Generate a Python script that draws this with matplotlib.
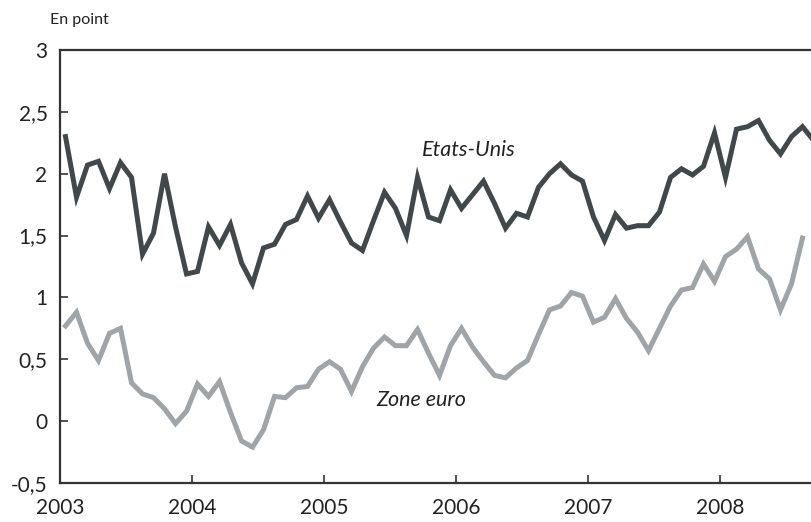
import matplotlib
matplotlib.use("Agg")
import matplotlib.pyplot as plt
import numpy as np

# Monthly series, Jan 2003 onward
etats_unis = [2.30, 1.81, 2.07, 2.10, 1.88, 2.09, 1.97, 1.35, 1.52, 2.00, 1.57, 1.19,
              1.21, 1.57, 1.42, 1.59, 1.28, 1.11, 1.40, 1.43, 1.59, 1.63, 1.82, 1.64,
              1.79, 1.61, 1.44, 1.38, 1.62, 1.85, 1.72, 1.50, 1.97, 1.65, 1.62, 1.87,
              1.72, 1.83, 1.94, 1.76, 1.56, 1.68, 1.65, 1.89, 2.00, 2.08, 1.99, 1.94,
              1.65, 1.46, 1.67, 1.56, 1.58, 1.58, 1.69, 1.97, 2.04, 1.99, 2.06, 2.33,
              1.97, 2.36, 2.38, 2.43, 2.27, 2.16, 2.30, 2.38, 2.27]
zone_euro = [0.77, 0.88, 0.63, 0.49, 0.71, 0.75, 0.31, 0.22, 0.19, 0.10, -0.02, 0.08,
             0.30, 0.20, 0.32, 0.07, -0.16, -0.21, -0.07, 0.20, 0.19, 0.27, 0.28, 0.42,
             0.48, 0.42, 0.24, 0.44, 0.59, 0.68, 0.61, 0.61, 0.74, 0.55, 0.37, 0.61,
             0.75, 0.60, 0.48, 0.37, 0.35, 0.43, 0.49, 0.70, 0.90, 0.93, 1.04, 1.01,
             0.80, 0.84, 0.99, 0.83, 0.72, 0.57, 0.75, 0.93, 1.06, 1.08, 1.27, 1.13,
             1.33, 1.39, 1.49, 1.23, 1.15, 0.90, 1.11, 1.48]
years = [2003, 2004, 2005, 2006, 2007, 2008]
y_ticks = [-0.5, 0, 0.5, 1, 1.5, 2, 2.5, 3]
y_labels = ["-0,5", "0", "0,5", "1", "1,5", "2", "2,5", "3"]

plt.rcParams['font.family'] = ['Lato', 'DejaVu Sans']

x_us = 2003 + (np.arange(len(etats_unis)) + 0.5) / 12
x_eu = 2003 + (np.arange(len(zone_euro)) + 0.5) / 12

fig = plt.figure(figsize=(8.11, 5.22), dpi=100)
ax = fig.add_axes([60 / 811, 1 - 483 / 522, 751 / 811, 433 / 522])

dark = '#41484b'
grey = '#9ea4a8'
ax.plot(x_us, etats_unis, color=dark, lw=3.6, solid_joinstyle='miter')
ax.plot(x_eu, zone_euro, color=grey, lw=3.6, solid_joinstyle='miter')

ax.set_xlim(2003, 2003 + 751 / 132)
ax.set_ylim(-0.5, 3)
ax.set_xticks(years)
ax.set_xticklabels([str(y) for y in years])
ax.set_yticks(y_ticks)
ax.set_yticklabels(y_labels)

for side in ['left', 'top', 'bottom']:
    ax.spines[side].set_color('#333333')
    ax.spines[side].set_linewidth(1.6)
ax.spines['right'].set_visible(False)

ax.tick_params(axis='both', direction='in', length=6, width=1.2, color='#333333',
               labelsize=15, labelcolor='#222222')
ax.tick_params(axis='y', pad=9)
ax.tick_params(axis='x', pad=11)

ax.text(2006.1, 2.19, 'Etats-Unis', style='italic', fontsize=15.5, color='#222222',
        ha='center', va='center')
ax.text(2005.74, 0.17, 'Zone euro', style='italic', fontsize=15.5, color='#222222',
        ha='center', va='center')
fig.text(50 / 811, 1 - 20 / 522, 'En point', fontsize=11.5, color='#222222', va='center')

fig.savefig('out.png', dpi=100)
